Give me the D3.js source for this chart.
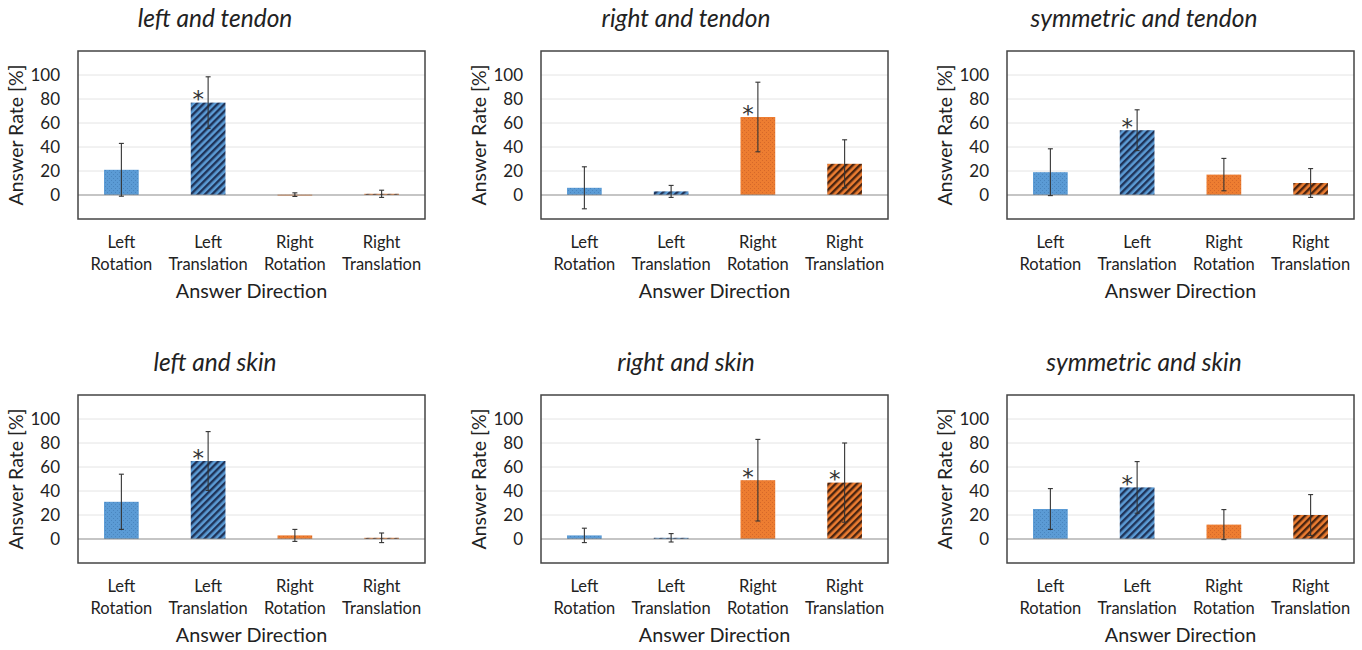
<!DOCTYPE html>
<html>
<head>
<meta charset="utf-8">
<script src="https://cdn.jsdelivr.net/npm/d3@7"></script>
<style>
  body { margin: 0; background: #fff; }
  text { font-family: Lato, 'Noto Sans', sans-serif; fill: #222; }
</style>
</head>
<body>
<div id="chart"></div>
<script>
var categories = [['Left', 'Rotation'], ['Left', 'Translation'], ['Right', 'Rotation'], ['Right', 'Translation']];
var titles = ['left and tendon', 'right and tendon', 'symmetric and tendon',
              'left and skin', 'right and skin', 'symmetric and skin'];
var means = [
    [21, 77, 0.3, 1],
    [6, 3, 65, 26],
    [19, 54, 17, 10],
    [31, 65, 3, 1],
    [3, 1, 49, 47],
    [25, 43, 12, 20]
];
var errors = [
    [22, 21.5, 1.5, 3],
    [17.5, 5, 29, 20],
    [19.5, 17, 13.5, 12],
    [23, 24.5, 5, 4],
    [6, 3.5, 34, 33],
    [17, 21.5, 12.5, 17]
];
var stars = [
    [false, true, false, false],
    [false, false, true, false],
    [false, true, false, false],
    [false, true, false, false],
    [false, false, true, true],
    [false, true, false, false]
];
var yTicks = [0, 20, 40, 60, 80, 100];
var fills = ['url(#dotBlue)', 'url(#hatchBlue)', 'url(#dotOrange)', 'url(#hatchOrange)'];

var colX = [78, 541, 1007];
var rowY = [51, 395];
var boxW = 347;
var boxH = 168;

var svg = d3.select('#chart')
    .append('svg')
    .attr('width', 1362)
    .attr('height', 650);

var defs = svg.append('defs');

function dotPattern(id, bg, dot) {
    var p = defs.append('pattern')
        .attr('id', id)
        .attr('patternUnits', 'userSpaceOnUse')
        .attr('width', 4)
        .attr('height', 4);
    p.append('rect').attr('width', 4).attr('height', 4).attr('fill', bg);
    p.append('rect').attr('x', 1).attr('y', 1).attr('width', 1).attr('height', 1).attr('fill', dot);
    p.append('rect').attr('x', 3).attr('y', 3).attr('width', 1).attr('height', 1).attr('fill', dot);
}

function hatchPattern(id, bg, line) {
    var p = defs.append('pattern')
        .attr('id', id)
        .attr('patternUnits', 'userSpaceOnUse')
        .attr('width', 5)
        .attr('height', 5)
        .attr('patternTransform', 'rotate(45)');
    p.append('rect').attr('width', 5).attr('height', 5).attr('fill', bg);
    p.append('rect').attr('x', 0).attr('y', 0).attr('width', 2.4).attr('height', 5).attr('fill', line);
}

dotPattern('dotBlue', '#5b9bd5', '#4a86bf');
hatchPattern('hatchBlue', '#5b9bd5', '#1f3358');
dotPattern('dotOrange', '#ed7d31', '#d5682a');
hatchPattern('hatchOrange', '#ed7d31', '#4a2410');

function drawPanel(i) {
    var x0 = colX[i % 3];
    var y0 = rowY[Math.floor(i / 3)];
    var g = svg.append('g').attr('transform', 'translate(' + x0 + ',' + y0 + ')');

    var x = d3.scaleBand()
        .domain(d3.range(categories.length))
        .range([0, boxW]);
    var y = d3.scaleLinear()
        .domain([-20, 120])
        .range([boxH, 0]);

    // gridlines
    g.selectAll('line.grid')
        .data(yTicks.filter(function(d) { return d > 0; }))
        .enter()
        .append('line')
        .attr('class', 'grid')
        .attr('x1', 0)
        .attr('x2', boxW)
        .attr('y1', function(d) { return y(d); })
        .attr('y2', function(d) { return y(d); })
        .style('stroke', '#e4e4e4')
        .style('stroke-width', 1);

    var bw = x.bandwidth() * 0.4;

    g.selectAll('rect.bar')
        .data(means[i])
        .enter()
        .append('rect')
        .attr('class', 'bar')
        .attr('x', function(d, j) { return x(j) + x.bandwidth() / 2 - bw / 2; })
        .attr('width', bw)
        .attr('y', function(d) { return y(d); })
        .attr('height', function(d) { return Math.max(1, y(0) - y(d)); })
        .attr('fill', function(d, j) { return fills[j]; });

    // zero line
    g.append('line')
        .attr('x1', 0)
        .attr('x2', boxW)
        .attr('y1', y(0))
        .attr('y2', y(0))
        .style('stroke', '#8c8c8c')
        .style('stroke-width', 1.2);

    // error bars
    var eb = g.selectAll('g.err')
        .data(means[i])
        .enter()
        .append('g')
        .attr('class', 'err')
        .attr('transform', function(d, j) { return 'translate(' + (x(j) + x.bandwidth() / 2) + ',0)'; });
    eb.append('line')
        .attr('y1', function(d, j) { return y(d + errors[i][j]); })
        .attr('y2', function(d, j) { return y(d - errors[i][j]); })
        .style('stroke', '#333')
        .style('stroke-width', 1.1);
    eb.append('line')
        .attr('x1', -2.5).attr('x2', 2.5)
        .attr('y1', function(d, j) { return y(d + errors[i][j]); })
        .attr('y2', function(d, j) { return y(d + errors[i][j]); })
        .style('stroke', '#333')
        .style('stroke-width', 1.1);
    eb.append('line')
        .attr('x1', -2.5).attr('x2', 2.5)
        .attr('y1', function(d, j) { return y(d - errors[i][j]); })
        .attr('y2', function(d, j) { return y(d - errors[i][j]); })
        .style('stroke', '#333')
        .style('stroke-width', 1.1);

    // significance stars
    var starIdx = d3.range(categories.length).filter(function(j) { return stars[i][j]; });
    g.selectAll('text.star')
        .data(starIdx)
        .enter()
        .append('text')
        .attr('class', 'star')
        .attr('x', function(j) { return x(j) + x.bandwidth() / 2 - 10; })
        .attr('y', function(j) { return y(means[i][j]) + 4.5; })
        .attr('text-anchor', 'middle')
        .style('font-family', "'DejaVu Sans', sans-serif")
        .style('font-size', '23px')
        .style('fill', '#333')
        .text('*');

    // box
    g.append('rect')
        .attr('width', boxW)
        .attr('height', boxH)
        .style('fill', 'none')
        .style('stroke', '#444')
        .style('stroke-width', 1.5);

    // y tick labels
    g.selectAll('text.ytick')
        .data(yTicks)
        .enter()
        .append('text')
        .attr('class', 'ytick')
        .attr('x', -18)
        .attr('y', function(d) { return y(d); })
        .attr('dy', '0.36em')
        .attr('text-anchor', 'end')
        .style('font-size', '17px')
        .text(function(d) { return d; });

    // category labels
    var cl = g.selectAll('text.cat')
        .data(categories)
        .enter()
        .append('text')
        .attr('class', 'cat')
        .attr('text-anchor', 'middle')
        .style('font-size', '16.5px');
    cl.append('tspan')
        .attr('x', function(d, j) { return x(j) + x.bandwidth() / 2; })
        .attr('y', boxH + 29)
        .text(function(d) { return d[0]; });
    cl.append('tspan')
        .attr('x', function(d, j) { return x(j) + x.bandwidth() / 2; })
        .attr('y', boxH + 51)
        .text(function(d) { return d[1]; });

    g.append('text')
        .attr('x', boxW / 2)
        .attr('y', boxH + 79)
        .attr('text-anchor', 'middle')
        .style('font-size', '19.8px')
        .text('Answer Direction');

    g.append('text')
        .attr('transform', 'translate(-55,' + (boxH / 2) + ') rotate(-90)')
        .attr('text-anchor', 'middle')
        .style('font-size', '19.5px')
        .text('Answer Rate [%]');

    g.append('text')
        .attr('x', 137 + (i % 3 === 1 ? 8 : 0))
        .attr('y', -24)
        .attr('text-anchor', 'middle')
        .style('font-size', '24.5px')
        .style('font-style', 'italic')
        .text(titles[i]);
}

for (var i = 0; i < titles.length; i++) {
    drawPanel(i);
}
</script>
</body>
</html>
